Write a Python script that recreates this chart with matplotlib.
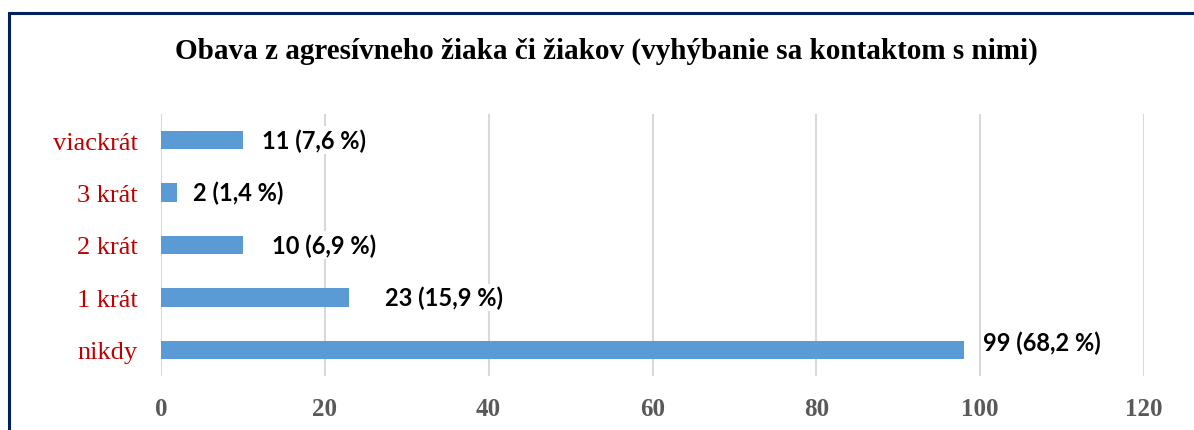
import matplotlib
matplotlib.use("Agg")
import matplotlib.pyplot as plt
from matplotlib.patches import Rectangle

# ---- data ----
categories = ["nikdy", "1 krát", "2 krát", "3 krát", "viackrát"]
bar_values = [98, 23, 10, 2, 10]
value_labels = ["99 (68,2 %)", "23 (15,9 %)", "10 (6,9 %)", "2 (1,4 %)", "11 (7,6 %)"]
x_ticks = [0, 20, 40, 60, 80, 100, 120]
title = "Obava z agresívneho žiaka či žiakov (vyhýbanie sa kontaktom s nimi)"

# ---- style ----
W, H = 1194, 431
DPI = 100
bar_color = "#5B9BD5"
grid_color = "#D9D9D9"
label_offsets_px = [(19, 8), (36, 0), (29, 0), (16, 0), (19, 0)]

fig = plt.figure(figsize=(W / DPI, H / DPI), dpi=DPI)
fig.patch.set_facecolor("white")

ax = fig.add_axes([161 / W, 1 - 377 / H, (1144 - 161) / W, (377 - 115) / H])
ypos = list(range(len(categories)))
ax.barh(ypos, bar_values, height=0.35, color=bar_color, zorder=2)

ax.set_xlim(0, 120)
ax.set_ylim(-0.5, len(categories) - 0.5)
ax.set_xticks(x_ticks)
ax.set_xticklabels([str(t) for t in x_ticks], fontfamily="Liberation Serif",
                   fontweight="bold", fontsize=18, color="#595959")
ax.set_yticks(ypos)
ax.set_yticklabels(categories, fontfamily="Liberation Serif", fontsize=19,
                   color="#C00000")
ax.tick_params(axis="both", length=0)
ax.tick_params(axis="y", pad=17)
ax.tick_params(axis="x", pad=15)
for s in ax.spines.values():
    s.set_visible(False)
ax.grid(axis="x", color=grid_color, linewidth=1.5, zorder=0)
ax.set_axisbelow(True)

for y, v, lab, (dx, dy) in zip(ypos, bar_values, value_labels, label_offsets_px):
    ax.annotate(lab, xy=(v, y), xytext=(dx, dy), textcoords="offset pixels",
                ha="left", va="center", fontfamily="Lato", fontweight="bold",
                fontsize=17, color="black", zorder=3,
                bbox=dict(facecolor="white", edgecolor="none", pad=1.5))

fig.text(606 / W, 1 - 51 / H, title, ha="center", va="center",
         fontfamily="Liberation Serif", fontweight="bold", fontsize=21)

fig.patches.append(Rectangle((8.5 / W, -0.05), 1.1, (1 - 13.5 / H) + 0.05,
                             transform=fig.transFigure, fill=False,
                             edgecolor="#002060", linewidth=2.2))

fig.savefig("out.png", dpi=DPI)
